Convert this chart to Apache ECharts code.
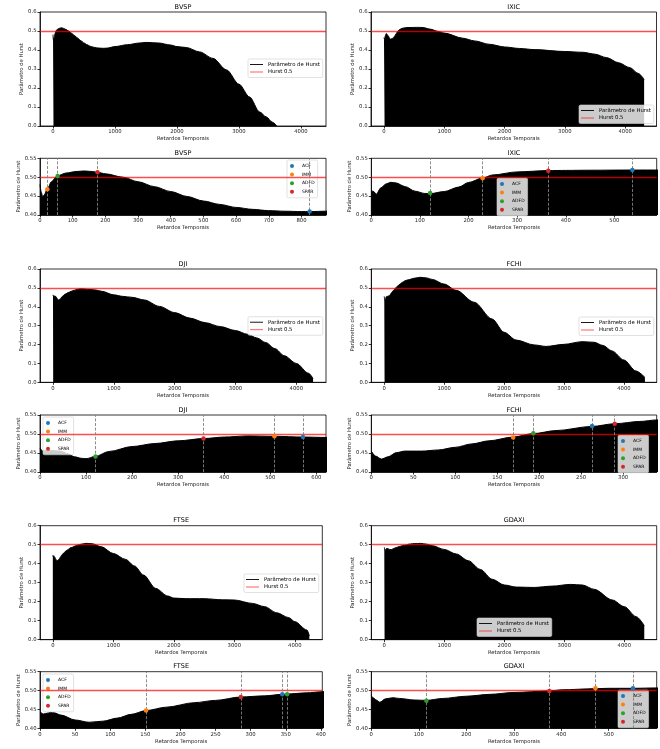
<!DOCTYPE html>
<html><head><meta charset="utf-8">
<script src="https://cdn.jsdelivr.net/npm/echarts@6/dist/echarts.min.js"></script>
<style>html,body{margin:0;padding:0;background:#fff}#c{width:660px;height:749px}</style>
</head><body><div id="c"></div>
<script>
// ---------------- DATA ----------------
const indices = ['BVSP', 'IXIC', 'DJI', 'FCHI', 'FTSE', 'GDAXI'];
const methods = ['ACF', 'IMM', 'ADFD', 'SPAR'];
const hurstRef = 0.5;

// Hurst parameter vs temporal lag
const bvspLag = [0,4,8,12,22,35,52,80,110,135,160,176,200,254,300,350,400,450,500,550,600,650,700,750,800,825,875,1000,1200,1400,1500,1700,1900,2000,2150,2365,2580,2800,3000,3170,3333,3440,3540,3610];
const bvspH   = [0.481,0.46,0.449,0.452,0.468,0.488,0.503,0.511,0.515,0.5165,0.515,0.513,0.509,0.5,0.488,0.475,0.462,0.449,0.437,0.428,0.42,0.415,0.4115,0.41,0.409,0.409,0.41,0.418,0.428,0.437,0.44,0.437,0.426,0.418,0.413,0.39,0.356,0.295,0.22,0.153,0.074,0.048,0.02,0];

const ixicLag = [0,5,10,20,30,40,50,70,90,110,121,150,180,200,229,250,300,364,400,450,537,600,650,760,900,1000,1310,1500,1750,2000,2250,2500,3000,3300,3500,3690,3890,4080,4215,4315];
const ixicH   = [0.465,0.462,0.455,0.472,0.482,0.4865,0.485,0.475,0.463,0.457,0.4565,0.462,0.474,0.486,0.498,0.506,0.514,0.5175,0.518,0.5185,0.519,0.519,0.518,0.51,0.498,0.489,0.462,0.448,0.43,0.416,0.408,0.402,0.392,0.388,0.378,0.36,0.333,0.307,0.277,0.245];

const djiLag = [0,3,6,15,30,45,60,75,90,100,120,150,200,250,300,355,400,450,509,571,621,700,800,1000,1150,1300,1500,1750,2000,2250,2500,2750,3000,3200,3350,3500,3650,3800,4000,4200,4275];
const djiH   = [0.463,0.458,0.455,0.457,0.456,0.455,0.448,0.44,0.436,0.435,0.441,0.454,0.467,0.475,0.482,0.488,0.492,0.495,0.494,0.492,0.491,0.489,0.482,0.463,0.455,0.45,0.436,0.402,0.369,0.34,0.316,0.295,0.274,0.254,0.235,0.21,0.178,0.141,0.1,0.048,0.02];

const fchiLag = [0,5,12,20,30,40,60,80,100,120,140,169,193,220,263,290,320,340,400,500,600,700,800,1000,1200,1500,1800,2000,2200,2500,2700,3000,3300,3500,3650,3800,4000,4200,4350];
const fchiH   = [0.455,0.442,0.434,0.44,0.451,0.455,0.455,0.458,0.465,0.474,0.482,0.492,0.501,0.509,0.52,0.527,0.533,0.537,0.543,0.551,0.556,0.553,0.545,0.52,0.487,0.424,0.335,0.265,0.224,0.198,0.19,0.201,0.215,0.212,0.195,0.166,0.118,0.06,0.026];

const ftseLag = [0,5,10,15,20,30,50,70,90,110,130,151,180,220,250,286,320,345,352,380,402,475,550,650,800,1000,1200,1350,1500,1700,1900,2000,2200,2500,2800,3000,3300,3500,3700,3900,4000,4200,4240];
const ftseH   = [0.444,0.438,0.44,0.442,0.441,0.435,0.422,0.416,0.419,0.427,0.437,0.447,0.456,0.468,0.474,0.483,0.486,0.49,0.491,0.494,0.497,0.503,0.507,0.505,0.489,0.454,0.423,0.388,0.34,0.27,0.23,0.219,0.216,0.216,0.21,0.209,0.191,0.174,0.142,0.116,0.095,0.051,0.02];

const gdaxiLag = [0,5,10,18,30,45,60,90,116,150,200,250,300,375,400,472,500,551,603,700,800,1000,1200,1400,1600,1800,2000,2200,2500,2800,3100,3300,3500,3800,4000,4200,4333];
const gdaxiH   = [0.486,0.48,0.475,0.469,0.478,0.481,0.479,0.475,0.474,0.479,0.485,0.49,0.495,0.499,0.502,0.505,0.506,0.506,0.507,0.503,0.495,0.475,0.451,0.416,0.37,0.318,0.288,0.277,0.275,0.282,0.291,0.288,0.265,0.209,0.174,0.121,0.074];

// Optimal lag per method (order: ACF, IMM, ADFD, SPAR) and Hurst value there
const bvspMethodLag  = [825, 22.5, 54, 176];
const bvspMethodH    = [0.409, 0.468, 0.503, 0.513];
const ixicMethodLag  = [537, 229, 121, 364];
const ixicMethodH    = [0.519, 0.497, 0.458, 0.517];
const djiMethodLag   = [571, 509, 120.5, 355];
const djiMethodH     = [0.492, 0.494, 0.441, 0.488];
const fchiMethodLag  = [263, 169, 193, 290];
const fchiMethodH    = [0.521, 0.491, 0.502, 0.527];
const ftseMethodLag  = [345, 151, 352, 286];
const ftseMethodH    = [0.49, 0.447, 0.49, 0.483];
const gdaxiMethodLag = [551, 472, 116, 375];
const gdaxiMethodH   = [0.506, 0.506, 0.473, 0.499];

// number of lags of each series (full-range axis extent)
const lagCount = [4194, 4305, 4274, 4330, 4242, 4324];

// tick labels
const bigXTicks = [0, 1000, 2000, 3000, 4000];
const bigYTicks = [0, 0.1, 0.2, 0.3, 0.4, 0.5, 0.6];
const zoomYTicks = [0.40, 0.45, 0.50, 0.55];
const bvspZoomTicks  = [0,100,200,300,400,500,600,700,800];
const ixicZoomTicks  = [0,100,200,300,400,500];
const djiZoomTicks   = [0,100,200,300,400,500,600];
const fchiZoomTicks  = [0,50,100,150,200,250,300];
const ftseZoomTicks  = [0,50,100,150,200,250,300,350,400];
const gdaxiZoomTicks = [0,100,200,300,400,500];

// ---------------- STYLE / LAYOUT ----------------
const methodColors = ['#1f77b4', '#ff7f0e', '#2ca02c', '#d62728'];
const FONT = 'DejaVu Sans';
const FS = 5.3;
const redLine = 'rgba(255,0,0,0.7)';
const lineIcon = 'path://M0,0H20V1.4H0Z';

const seriesLag = [bvspLag, ixicLag, djiLag, fchiLag, ftseLag, gdaxiLag];
const seriesH = [bvspH, ixicH, djiH, fchiH, ftseH, gdaxiH];
const mLag = [bvspMethodLag, ixicMethodLag, djiMethodLag, fchiMethodLag, ftseMethodLag, gdaxiMethodLag];
const mH = [bvspMethodH, ixicMethodH, djiMethodH, fchiMethodH, ftseMethodH, gdaxiMethodH];
const zTicks = [bvspZoomTicks, ixicZoomTicks, djiZoomTicks, fchiZoomTicks, ftseZoomTicks, gdaxiZoomTicks];

const layout = [
  {big:[40,12,286,114],        small:[40,158.3,286,56.7],    bigLeg:[248,59],    smallLeg:[287,160]},
  {big:[371,12,285.5,114],     small:[371.3,158.3,285.4,56.7], bigLeg:[579,105], smallLeg:[497,178]},
  {big:[40,269,286,113.3],     small:[40,415,286,57],        bigLeg:[248,316.7], smallLeg:[43,417]},
  {big:[371.3,269,285.4,113.3],small:[371.3,415,285.4,57],   bigLeg:[579,317],   smallLeg:[618,435]},
  {big:[40,525.7,282.3,114],   small:[40,671.7,282.3,56.6],  bigLeg:[244,574],   smallLeg:[43,674]},
  {big:[371.3,525.7,285.4,114],small:[371.3,671.7,285.4,56.6], bigLeg:[477,618], smallLeg:[618,690]}
];

const grids = [], xAxes = [], yAxes = [], titles = [], legends = [], series = [];
const txt = {fontSize: FS, fontFamily: FONT, color: '#000'};

indices.forEach((name, i) => {
  const L = layout[i];
  const pairs = seriesLag[i].map((x, k) => [x, seriesH[i][k]]);
  [['big', L.big], ['small', L.small]].forEach(([kind, r]) => {
    const g = grids.length;
    grids.push({left: r[0], top: r[1], width: r[2], height: r[3], show: true,
      borderColor: '#000', borderWidth: 0.8, backgroundColor: 'transparent'});
    titles.push({text: name, left: r[0] + r[2] / 2, top: r[1] - 8.5, textAlign: 'center', padding: 0,
      textStyle: {fontSize: 6.5, fontWeight: 'normal', color: '#000', fontFamily: FONT}});
    const isBig = kind === 'big';
    const D = lagCount[i];
    const zMax = Math.max(...mLag[i]) + 50;
    const xt = isBig ? bigXTicks : zTicks[i];
    xAxes.push({gridIndex: g, type: 'value',
      min: isBig ? -0.05 * D : 0, max: isBig ? 1.05 * D : zMax,
      axisLine: {show: true, onZero: false, lineStyle: {color: '#000', width: 0.8}},
      axisTick: {show: true, length: 2.5, customValues: xt, lineStyle: {color: '#000', width: 0.8}},
      axisLabel: {customValues: xt, margin: 3.5, formatter: v => String(v), ...txt, color: '#222'},
      splitLine: {show: false},
      name: 'Retardos Temporais', nameLocation: 'middle', nameGap: 10.5, nameTextStyle: {...txt, color: '#222'}
    });
    const yt = isBig ? bigYTicks : zoomYTicks;
    yAxes.push({gridIndex: g, type: 'value',
      min: yt[0], max: yt[yt.length - 1], interval: isBig ? 0.1 : 0.05,
      axisLine: {show: true, onZero: false, lineStyle: {color: '#000', width: 0.8}},
      axisTick: {show: true, length: 2.5, lineStyle: {color: '#000', width: 0.8}},
      axisLabel: {margin: 3.5, formatter: v => v.toFixed(isBig ? 1 : 2), ...txt, color: '#222'},
      splitLine: {show: false},
      name: 'Parâmetro de Hurst', nameLocation: 'middle', nameGap: isBig ? 14 : 18, nameTextStyle: {...txt, color: '#222'}
    });
    series.push({type: 'line', name: 'Parâmetro de Hurst', xAxisIndex: g, yAxisIndex: g, data: pairs,
      symbol: 'none', showSymbol: false, smooth: 0.3, smoothMonotone: 'x', color: '#000',
      itemStyle: {color: '#000'},
      lineStyle: {color: '#000', width: 1}, areaStyle: {color: '#000', opacity: 1}, z: 2, silent: true});
    series.push({type: 'line', name: 'Hurst 0.5', xAxisIndex: g, yAxisIndex: g, data: [],
      symbol: 'none', color: redLine, itemStyle: {color: redLine},
      lineStyle: {color: redLine, width: 1.3}, z: 3, silent: true,
      markLine: {silent: true, symbol: ['none', 'none'], label: {show: false},
        lineStyle: {color: redLine, width: 1.3, type: 'solid'}, emphasis: {disabled: true},
        data: [{yAxis: hurstRef}]}});
    if (isBig) {
      legends.push({left: L.bigLeg[0], top: L.bigLeg[1], orient: 'vertical', selectedMode: false,
        data: [{name: 'Parâmetro de Hurst', icon: lineIcon}, {name: 'Hurst 0.5', icon: lineIcon}],
        symbolKeepAspect: true,
        itemWidth: 13, itemHeight: 6, itemGap: 1.5,
        padding: [2.5, 3, 2.5, 2], backgroundColor: 'rgba(255,255,255,0.8)', borderColor: '#cccccc',
        borderWidth: 0.6, borderRadius: 1.5, textStyle: {...txt, lineHeight: 6}});
    } else {
      methods.forEach((m, k) => {
        series.push({type: 'scatter', name: m, xAxisIndex: g, yAxisIndex: g,
          data: [[mLag[i][k], mH[i][k]]], symbolSize: 4.5, itemStyle: {color: methodColors[k], opacity: 1},
          z: 6, silent: true,
          markLine: {silent: true, symbol: ['none', 'none'], label: {show: false},
            lineStyle: {color: '#808080', type: [3, 1.6], width: 0.9}, emphasis: {disabled: true},
            data: [{xAxis: mLag[i][k]}]}});
      });
      legends.push({left: L.smallLeg[0], top: L.smallLeg[1], orient: 'vertical', selectedMode: false,
        data: methods.map(m => ({name: m, icon: 'circle'})), itemWidth: 10, itemHeight: 4, itemGap: 3.6,
        padding: [3.5, 3, 3.5, 3], backgroundColor: 'rgba(255,255,255,0.8)', borderColor: '#cccccc',
        borderWidth: 0.6, borderRadius: 1.5, textStyle: {...txt, fontSize: 4.5, lineHeight: 5}});
    }
  });
});

const chart = echarts.init(document.getElementById('c'), null, {renderer: 'canvas', width: 660, height: 749});
chart.setOption({
  animation: false,
  backgroundColor: '#fff',
  title: titles, grid: grids, xAxis: xAxes, yAxis: yAxes, legend: legends, series: series
});
</script></body></html>
